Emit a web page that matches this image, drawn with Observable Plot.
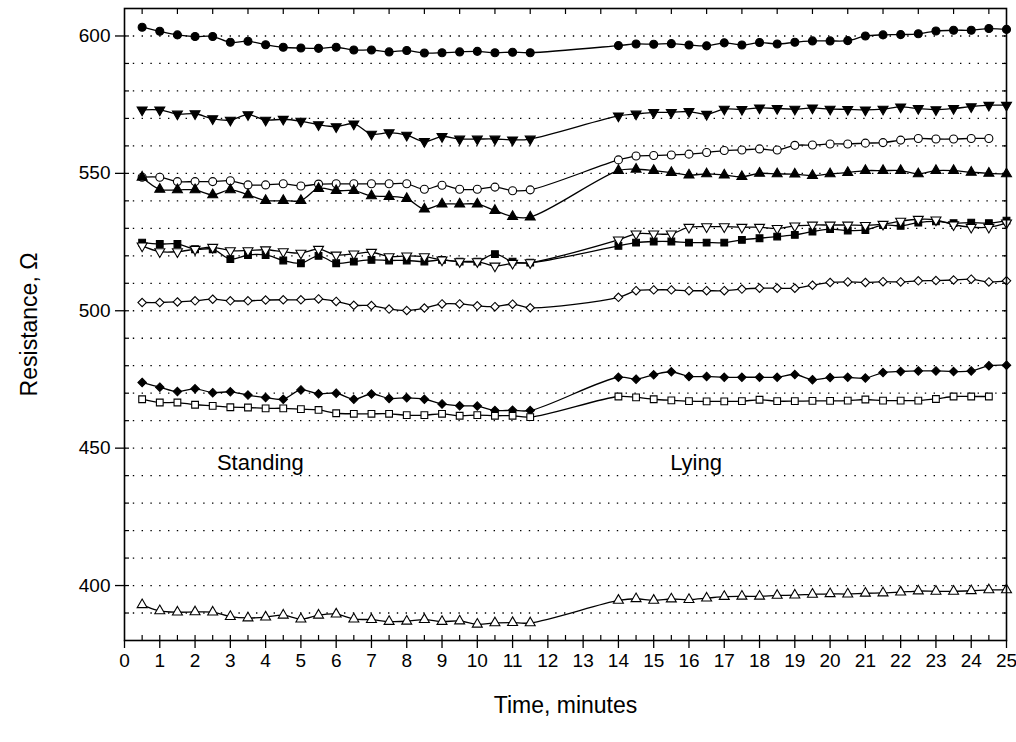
<!DOCTYPE html>
<html><head><meta charset="utf-8">
<script src="https://cdn.jsdelivr.net/npm/d3@7"></script>
<script src="https://cdn.jsdelivr.net/npm/@observablehq/plot@0.6"></script>
<style>
body{margin:0;background:#fff}
svg{font-family:"Liberation Sans",Arial,Helvetica,sans-serif}
</style>
</head><body><div id="chart"></div><script>
// time points (minutes)
const tStanding = [0.5,1,1.5,2,2.5,3,3.5,4,4.5,5,5.5,6,6.5,7,7.5,8,8.5,9,9.5,10,10.5,11,11.5];
const tLying = [14,14.5,15,15.5,16,16.5,17,17.5,18,18.5,19,19.5,20,20.5,21,21.5,22,22.5,23,23.5,24,24.5,25];

// series: resistance values (Ohm), standing then lying
const filledCircleStand = [603.2,601.7,600.4,599.8,599.8,597.7,598.1,596.8,595.9,595.6,595.5,595.9,594.9,594.9,594.2,594.7,593.8,593.9,594.2,594.4,593.9,594.1,593.9];
const filledCircleLie = [596.5,597.1,597.0,597.2,596.7,596.4,597.5,596.7,597.6,597.1,597.7,598.2,598.2,598.3,600.0,600.4,600.5,600.8,601.8,602.1,602.1,602.7,602.4];
const filledDownTriStand = [573.1,573.1,571.6,571.7,569.9,569.4,571.4,569.4,569.7,569.0,567.7,567.0,568.0,564.3,564.8,563.9,561.6,563.4,562.5,562.5,562.5,562.2,562.5];
const filledDownTriLie = [570.9,571.6,572.2,572.2,572.5,571.5,573.4,573.3,573.8,573.6,573.4,573.8,573.4,573.3,573.1,573.4,574.2,573.6,573.2,573.6,574.3,574.8,574.8];
const openCircleStand = [548.6,548.6,547.0,547.0,547.0,547.3,545.8,545.8,546.2,545.4,546.1,546.2,546.2,546.2,546.2,546.2,544.2,545.7,544.2,544.2,545.0,543.7,544.0];
const openCircleLie = [554.9,556.3,556.5,556.7,557.0,557.6,558.3,558.5,558.9,558.5,560.2,560.3,560.7,560.7,561.0,561.2,562.1,562.7,562.5,562.5,562.7,562.7];
const filledUpTriStand = [548.6,544.2,544.0,544.0,542.2,544.0,542.2,540.1,540.1,540.1,544.5,543.7,543.7,541.8,541.6,540.8,537.0,538.8,538.8,538.8,536.5,534.3,534.1];
const filledUpTriLie = [551.0,551.5,551.0,550.3,549.4,549.8,549.4,548.8,550.0,549.8,549.7,549.2,549.8,550.3,551.0,551.0,551.0,549.8,551.0,551.0,550.4,550.0,549.8];
const filledSquareStand = [524.8,524.3,524.3,522.4,522.4,518.8,520.3,520.3,518.3,517.3,520.0,517.3,517.9,518.5,518.3,518.3,517.9,518.5,517.9,517.9,520.6,517.9,517.5];
const filledSquareLie = [523.6,524.8,525.2,525.2,524.8,524.8,524.8,525.8,526.4,527.0,527.6,528.8,529.7,529.2,529.4,531.2,530.9,532.1,532.5,531.9,532.1,531.9,532.8];
const openDownTriStand = [523.6,521.5,521.5,522.4,523.1,521.9,521.9,522.2,521.5,521.0,522.4,520.3,520.7,521.3,519.7,520.0,519.7,518.5,517.9,517.9,516.3,517.3,517.5];
const openDownTriLie = [525.8,528.0,528.0,528.0,530.4,530.6,530.6,530.4,530.4,530.0,530.9,531.2,531.2,531.2,531.1,531.5,532.6,533.3,533.1,531.3,530.4,530.4,532.0];
const openDiamondStand = [503.0,503.0,503.2,503.6,504.2,503.6,503.6,503.9,504.0,504.0,504.3,503.4,502.0,501.9,500.6,500.1,501.0,502.5,502.5,501.8,501.5,502.4,501.1];
const openDiamondLie = [504.9,507.3,507.6,507.6,507.3,507.3,507.3,507.9,508.2,508.2,508.2,509.3,510.3,510.5,510.3,510.6,510.5,510.9,511.0,511.2,511.5,510.5,510.9];
const filledDiamondStand = [473.9,472.2,470.6,471.6,470.2,470.5,469.3,468.4,467.8,471.2,469.8,470.0,467.8,469.7,468.1,468.3,467.8,466.1,465.4,465.3,463.7,463.8,463.7];
const filledDiamondLie = [475.8,475.1,476.7,477.8,476.1,476.1,475.8,475.8,475.8,475.8,476.8,474.9,475.7,475.8,475.5,477.5,477.9,478.1,478.1,477.9,478.1,480.0,480.2];
const openSquareStand = [467.8,466.6,466.6,465.8,465.4,464.9,464.8,464.5,464.5,464.2,463.9,462.7,462.5,462.5,462.5,462.0,462.0,462.5,461.8,462.0,461.8,461.8,461.3];
const openSquareLie = [468.8,468.5,467.8,467.4,467.1,467.0,467.0,467.1,467.6,467.1,467.1,467.2,467.2,467.3,467.7,467.3,467.3,467.3,467.9,468.8,468.8,468.8];
const openUpTriStand = [393.0,390.8,390.3,390.4,390.3,388.7,388.2,388.5,389.2,387.8,389.2,389.6,387.8,387.6,386.9,387.0,387.6,386.9,387.1,385.9,386.4,386.5,386.4];
const openUpTriLie = [394.6,395.2,394.6,395.1,394.9,395.4,396.0,396.1,396.1,396.4,396.5,396.8,397.0,396.9,397.2,397.3,397.6,398.0,397.9,397.9,398.1,398.4,398.4];

// ticks & grid
const xMajorTicks = [0,1,2,3,4,5,6,7,8,9,10,11,12,13,14,15,16,17,18,19,20,21,22,23,24,25];
const xMinorTicks = [0.5,1,1.5,2,2.5,3,3.5,4,4.5,5,5.5,6,6.5,7,7.5,8,8.5,9,9.5,10,10.5,11,11.5,12,12.5,13,13.5,14,14.5,15,15.5,16,16.5,17,17.5,18,18.5,19,19.5,20,20.5,21,21.5,22,22.5,23,23.5,24,24.5];
const xTopTicks = [0.5,1.5,2.5,3.5,4.5,5.5,6.5,7.5,8.5,9.5,10.5,11.5,12.5,13.5,14.5,15.5,16.5,17.5,18.5,19.5,20.5,21.5,22.5,23.5,24.5];
const yMajorTicks = [400,450,500,550,600];
const gridY = [390,400,410,420,430,440,450,460,470,480,490,500,510,520,530,540,550,560,570,580,590,600];

// annotations
const noteLabels = ["Standing","Lying"];
const noteX = [3.85,16.2];
const noteY = [444.5,444.5];

const seriesDefs = [
  {stand: filledCircleStand, lie: filledCircleLie, symbol: "circle", filled: true, rot: 0},
  {stand: filledDownTriStand, lie: filledDownTriLie, symbol: "triangle", filled: true, rot: 180},
  {stand: openCircleStand, lie: openCircleLie, symbol: "circle", filled: false, rot: 0},
  {stand: filledUpTriStand, lie: filledUpTriLie, symbol: "triangle", filled: true, rot: 0},
  {stand: filledSquareStand, lie: filledSquareLie, symbol: "square", filled: true, rot: 0},
  {stand: openDownTriStand, lie: openDownTriLie, symbol: "triangle", filled: false, rot: 180},
  {stand: openDiamondStand, lie: openDiamondLie, symbol: "diamond2", filled: false, rot: 0},
  {stand: filledDiamondStand, lie: filledDiamondLie, symbol: "diamond2", filled: true, rot: 0},
  {stand: openSquareStand, lie: openSquareLie, symbol: "square", filled: false, rot: 0},
  {stand: openUpTriStand, lie: openUpTriLie, symbol: "triangle", filled: false, rot: 0}
];

const seriesRows = seriesDefs.map((s, k) => [
  ...s.stand.map((v, i) => ({series: k, t: tStanding[i], v})),
  ...s.lie.map((v, i) => ({series: k, t: tLying[i], v}))
]);
const allRows = seriesRows.flat();
const notes = noteLabels.map((label, i) => ({label, t: noteX[i], v: noteY[i]}));

const marks = [
  Plot.ruleY(gridY, {stroke: "black", strokeWidth: 1.3, strokeDasharray: "1.4,7.4"}),
  Plot.line(allRows, {x: "t", y: "v", z: "series", curve: "catmull-rom", stroke: "black", strokeWidth: 1.3}),
  ...seriesDefs.map((s, k) => Plot.dot(seriesRows[k], {
    x: "t", y: "v", symbol: s.symbol, rotate: s.rot,
    r: s.symbol === "triangle" ? 3.7 : (s.symbol === "circle" ? 4 : 3.8),
    fill: s.filled ? "black" : "white", stroke: "black", strokeWidth: 1.1
  })),
  Plot.text(notes, {x: "t", y: "v", text: "label", fontSize: 22, fill: "black"}),
  Plot.frame({stroke: "black", strokeWidth: 1.6}),
  Plot.axisY(yMajorTicks, {anchor: "left", tickSize: 9, tickPadding: 5, fontSize: 19, strokeWidth: 1.3,
    label: "Resistance, Ω", labelAnchor: "center", labelArrow: "none", labelOffset: 104}),
  Plot.axisY(gridY, {anchor: "left", tickSize: -5, text: null, label: null, strokeWidth: 1.2}),
  Plot.axisY(gridY, {anchor: "right", tickSize: -5, text: null, label: null, strokeWidth: 1.2}),
  Plot.axisX(xMajorTicks, {anchor: "bottom", tickSize: 8, tickPadding: 5, fontSize: 19, strokeWidth: 1.3,
    label: "Time, minutes", labelAnchor: "center", labelArrow: "none", labelOffset: 72}),
  Plot.axisX(xMinorTicks, {anchor: "bottom", tickSize: -5, text: null, label: null, strokeWidth: 1.2}),
  Plot.axisX(xTopTicks, {anchor: "top", tickSize: -5, text: null, label: null, strokeWidth: 1.2})
];

const chart = Plot.plot({
  width: 1016, height: 742,
  marginLeft: 124, marginRight: 10, marginTop: 8, marginBottom: 102,
  x: {domain: [0, 25]},
  y: {domain: [380, 610]},
  style: {fontFamily: "'Liberation Sans', Arial, sans-serif", color: "black", background: "white"},
  marks
});
// axis titles are larger than tick labels
chart.querySelectorAll("[aria-label$='axis label'] text, [aria-label$='axis label']").forEach(el => {
  el.setAttribute("font-size", 23);
});
document.getElementById("chart").append(chart);
</script></body></html>
